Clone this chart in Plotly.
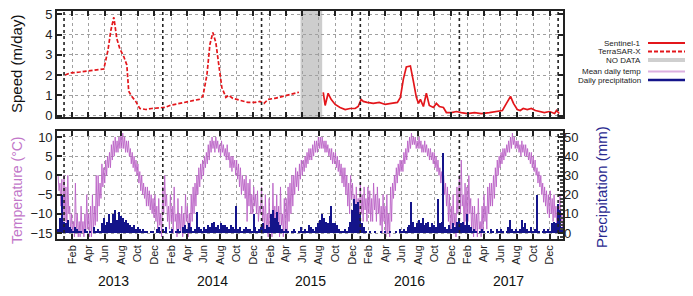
import pandas as pd
import plotly.graph_objects as go

# ---------------- DATA ----------------
# Glacier speed (m/day)
tsx_dates = ["2013-01-05", "2013-01-23", "2013-02-28", "2013-04-06", "2013-05-13", "2013-05-28",
             "2013-06-12", "2013-06-23", "2013-07-04", "2013-07-15", "2013-07-26", "2013-08-10",
             "2013-08-21", "2013-08-28", "2013-09-08", "2013-09-23", "2013-10-08", "2013-10-30",
             "2013-11-21", "2013-12-21", "2014-01-08", "2014-01-27", "2014-03-05", "2014-04-11",
             "2014-05-15", "2014-05-29", "2014-06-13", "2014-06-24", "2014-07-05", "2014-07-16",
             "2014-07-27", "2014-08-07", "2014-08-22", "2014-09-02", "2014-09-17", "2014-10-13",
             "2014-11-11", "2014-12-08", "2014-12-26", "2015-01-10", "2015-01-25", "2015-02-19",
             "2015-03-21", "2015-04-19", "2015-05-19"]
tsx_speed = [2.0, 2.1, 2.15, 2.2, 2.25, 2.3,
             3.2, 4.2, 4.85, 3.8, 3.3, 2.9,
             2.5, 1.2, 0.95, 0.7, 0.35, 0.3,
             0.35, 0.4, 0.4, 0.5, 0.6, 0.7,
             0.8, 0.95, 2.0, 3.5, 4.1, 3.6,
             2.4, 1.4, 0.9, 1.0, 0.85, 0.75,
             0.65, 0.65, 0.7, 0.6, 0.8, 0.85,
             0.95, 1.05, 1.15]

s1_dates = ["2015-08-17", "2015-08-24", "2015-09-04", "2015-09-15", "2015-09-30", "2015-10-18",
            "2015-11-06", "2015-11-24", "2015-12-13", "2015-12-24", "2016-01-04", "2016-01-12",
            "2016-01-26", "2016-02-18", "2016-03-11", "2016-04-02", "2016-04-24", "2016-05-17",
            "2016-05-28", "2016-06-08", "2016-06-19", "2016-07-04", "2016-07-15", "2016-07-26",
            "2016-08-03", "2016-08-10", "2016-08-21", "2016-09-01", "2016-09-12", "2016-09-27",
            "2016-10-08", "2016-10-19", "2016-11-03", "2016-11-14", "2016-12-03", "2016-12-21",
            "2017-01-08", "2017-01-31", "2017-02-26", "2017-03-23", "2017-04-22", "2017-05-18",
            "2017-06-09", "2017-06-24", "2017-07-09", "2017-07-20", "2017-08-03", "2017-08-14",
            "2017-08-25", "2017-09-09", "2017-09-24", "2017-10-09", "2017-10-24", "2017-11-11",
            "2017-11-30", "2017-12-19", "2017-12-26", "2018-01-05"]
s1_speed = [1.15, 0.5, 1.1, 0.8, 0.55, 0.4,
            0.3, 0.35, 0.35, 0.45, 0.8, 0.7,
            0.65, 0.6, 0.65, 0.55, 0.6, 0.65,
            0.9, 1.8, 2.4, 2.45, 1.7, 0.9,
            0.6, 0.8, 0.45, 1.1, 0.5, 0.4,
            0.6, 0.45, 0.4, 0.15, 0.15, 0.2,
            0.15, 0.1, 0.15, 0.1, 0.15, 0.2,
            0.25, 0.6, 0.95, 0.6, 0.3, 0.25,
            0.35, 0.3, 0.35, 0.25, 0.2, 0.15,
            0.2, 0.1, 0.25, 0.1]

nodata_start = "2015-05-25"
nodata_end = "2015-08-13"

# Mean daily temperature: weekly upper / lower envelope (deg C)
temp_hi_2012 = [0, -2, -1]
temp_lo_2012 = [-4, -8, -15]
temp_hi_2013 = [0, -3, 0, -8, -10, -12, -2, -10, -12, -8, -12, -10, -5, -10, -8, -5, -8, 0,
                0, -2, 3, 2, 4, 5, 6, 8, 9, 10, 9, 10, 11, 11, 10, 9, 9, 7, 6, 5, 4,
                3, 1, 0, -2, -3, -3, -4, -5, -6, -5, -8, -6, -10]
temp_lo_2013 = [-12, -15, -10, -15, -15, -16, -14, -16, -16, -15, -16, -15, -14, -16, -16, -15, -13, -12,
                -8, -6, -3, -2, 0, 2, 2, 4, 5, 6, 6, 7, 7, 7, 6, 6, 5, 3, 2, 1, 0,
                -2, -4, -5, -6, -8, -8, -9, -10, -11, -12, -15, -13, -16]
temp_hi_2014 = [-3, 0, -5, -8, -5, -8, -3, -10, -6, -10, -8, -10, -5, -8, -10, -5, -3,
                -2, 0, 2, 3, 4, 5, 6, 8, 9, 10, 9, 10, 9, 8, 9, 8, 7, 8, 6, 5, 5, 4,
                4, 3, 2, 0, -1, 0, -2, -1, -5, -3, -5, -4, -8]
temp_lo_2014 = [-10, -8, -12, -14, -12, -15, -12, -16, -14, -15, -16, -15, -12, -16, -15, -12, -10,
                -8, -5, -3, -1, 0, 2, 3, 4, 6, 7, 6, 7, 6, 5, 6, 5, 4, 4, 2, 1, 2, 0,
                -1, -3, -5, -4, -6, -12, -8, -10, -10, -8, -10, -12, -10]
temp_hi_2015 = [-3, -8, -5, -10, -6, -10, -2, -8, -5, -8, -3, -10, -6, -6, -3, -2, 0,
                0, 2, 1, 3, 4, 4, 5, 6, 7, 7, 8, 9, 9, 10, 10, 10, 9, 9, 8, 7, 7, 6,
                6, 5, 4, 3, 2, 2, 0, -2, 0, -2, -5, -3, -6]
temp_lo_2015 = [-12, -15, -14, -16, -14, -16, -14, -15, -15, -16, -13, -16, -15, -15, -12, -10, -8,
                -5, -3, -4, -1, 0, 1, 2, 3, 4, 4, 5, 6, 6, 7, 7, 7, 6, 6, 5, 4, 3, 3,
                2, 1, 0, -2, -3, -5, -8, -10, -6, -8, -13, -10, -12]
temp_hi_2016 = [-2, -5, -3, -6, -3, -4, -6, -2, -5, -3, -6, -8, -5, -8, -5, -10, -3,
                -2, 0, 2, 3, 4, 4, 6, 7, 9, 10, 11, 10, 10, 9, 10, 9, 8, 9, 8, 7, 7, 6,
                6, 5, 4, 2, 1, 0, -2, -3, -5, -8, -5, -10, -3]
temp_lo_2016 = [-10, -12, -9, -12, -10, -12, -12, -9, -12, -10, -13, -15, -12, -16, -15, -16, -12,
                -6, -4, -2, 0, 1, 1, 3, 4, 6, 7, 8, 8, 7, 7, 7, 6, 6, 6, 5, 4, 4, 3,
                2, 1, 0, -2, -3, -5, -8, -12, -15, -15, -13, -16, -10]
temp_hi_2017 = [0, 4, -5, -2, -3, 0, -6, -8, -8, -10, -6, -12, -8, -5, -8, -3, -2,
                -2, 0, 2, 4, 5, 6, 7, 7, 8, 9, 10, 11, 10, 9, 9, 8, 9, 8, 8, 7, 6, 6,
                5, 4, 2, 1, 0, -2, -3, -4, -5, -4, -6, -5, -8]
temp_lo_2017 = [-10, -8, -14, -12, -12, -10, -15, -16, -15, -16, -14, -16, -15, -12, -14, -10, -8,
                -8, -6, -3, 0, 2, 3, 4, 5, 6, 6, 7, 8, 7, 7, 6, 5, 6, 5, 5, 4, 3, 2,
                1, 0, -2, -3, -5, -7, -8, -10, -11, -10, -12, -11, -13]
temp_hi_2018 = [-8, -5, -10]
temp_lo_2018 = [-14, -12, -15]

# Daily precipitation: weekly values (mm)
precip_2012 = [2, 8, 20]
precip_2013 = [6, 5, 7, 3, 2, 1, 3, 2, 1, 1, 0, 2, 1, 0, 1, 0, 3, 1, 2, 1, 5, 8,
               4, 6, 10, 5, 10, 12, 7, 11, 9, 8, 6, 7, 5, 4, 3, 4, 2, 3, 2, 1, 2, 1,
               1, 0, 1, 1, 0, 2, 3, 1]
precip_2014 = [2, 1, 3, 0, 1, 2, 0, 1, 2, 1, 0, 3, 4, 2, 5, 3, 1, 2, 11, 3, 2, 1,
               3, 2, 4, 3, 5, 6, 3, 4, 2, 5, 4, 4, 3, 2, 4, 3, 2, 14, 2, 3, 1, 2,
               3, 2, 2, 1, 10, 3, 1, 2]
precip_2015 = [3, 5, 2, 4, 3, 10, 12, 8, 11, 6, 4, 2, 1, 2, 1, 0, 1, 2, 1, 0, 1, 3,
               1, 2, 1, 4, 3, 2, 1, 3, 5, 7, 10, 8, 6, 5, 9, 14, 5, 5, 4, 2, 1, 1,
               2, 1, 3, 6, 12, 18, 15, 16]
precip_2016 = [10, 5, 3, 1, 0, 1, 0, 0, 1, 0, 0, 1, 0, 1, 0, 0, 1, 0, 0, 1, 0, 2,
               1, 2, 1, 3, 4, 16, 6, 3, 5, 7, 5, 8, 4, 5, 6, 3, 5, 4, 3, 18, 5, 6,
               42, 3, 2, 4, 2, 5, 3, 6]
precip_2017 = [8, 5, 6, 4, 10, 4, 3, 1, 2, 1, 0, 1, 2, 1, 0, 1, 0, 2, 1, 0, 2, 1,
               2, 1, 0, 1, 3, 7, 2, 1, 2, 1, 2, 7, 3, 5, 2, 1, 3, 1, 2, 20, 1, 0,
               1, 2, 1, 2, 1, 5, 6, 5]
precip_2018 = [15, 12, 3]

# Axis tick labels
month_names = ["Feb", "Apr", "Jun", "Aug", "Oct", "Dec"]
month_nums = [2, 4, 6, 8, 10, 12]
year_list = [2013, 2014, 2015, 2016, 2017]

# ---------------- BUILD SERIES ----------------
temp_blocks = [("2012-12-10", temp_hi_2012, temp_lo_2012),
               ("2013-01-01", temp_hi_2013, temp_lo_2013),
               ("2014-01-01", temp_hi_2014, temp_lo_2014),
               ("2015-01-01", temp_hi_2015, temp_lo_2015),
               ("2016-01-01", temp_hi_2016, temp_lo_2016),
               ("2017-01-01", temp_hi_2017, temp_lo_2017),
               ("2018-01-01", temp_hi_2018, temp_lo_2018)]
tx, ty = [], []
for start, hi, lo in temp_blocks:
    days = pd.date_range(start, periods=len(hi), freq="7D")
    for d, h, l in zip(days, hi, lo):
        tx += [d, d + pd.Timedelta(hours=84)]
        ty += [h, l]

precip_blocks = [("2012-12-10", precip_2012), ("2013-01-01", precip_2013),
                 ("2014-01-01", precip_2014), ("2015-01-01", precip_2015),
                 ("2016-01-01", precip_2016), ("2017-01-01", precip_2017),
                 ("2018-01-01", precip_2018)]
px_, py_ = [], []
for start, vals in precip_blocks:
    days = pd.date_range(start, periods=len(vals), freq="7D")
    px_ += list(days)
    py_ += vals

tickvals = [f"{y}-{m:02d}-01" for y in year_list for m in month_nums]
ticktext = [n for y in year_list for n in month_names]

# ---------------- FIGURE ----------------
# The page body has an 8px margin, so the figure is laid out 8px smaller
OFF = 8
W, H = 693 - OFF, 296 - OFF
ML, MR, MT, MB = 57 - OFF, 130, 11 - OFF, 57
PW, PH = W - ML - MR, H - MT - MB


def xp(px):  # page pixel -> paper x
    return (px - OFF - ML) / PW


def yp(py):  # page pixel -> paper y
    return (H - MB - (py - OFF)) / PH


FONT = "Liberation Sans, Arial, sans-serif"
RED = "#e3161b"
NAVY = "#14148a"
PURPLE = "#c277c9"

fig = go.Figure()

fig.add_trace(go.Scatter(x=tsx_dates, y=tsx_speed, mode="lines", xaxis="x", yaxis="y",
                         line=dict(color=RED, width=1.7, dash="4px,2px"), showlegend=False))
fig.add_trace(go.Scatter(x=s1_dates, y=s1_speed, mode="lines", xaxis="x", yaxis="y",
                         line=dict(color=RED, width=1.7), showlegend=False))

fig.add_trace(go.Scatter(x=tx, y=ty, mode="lines", xaxis="x2", yaxis="y2",
                         line=dict(color="rgba(185,95,196,0.9)", width=0.95), showlegend=False))
fig.add_trace(go.Bar(x=px_, y=py_, xaxis="x2", yaxis="y3", marker=dict(color=NAVY, line=dict(width=0)),
                     width=5 * 86400000, showlegend=False))

xrange_ = ["2012-12-06", "2018-01-19"]
grid = dict(showgrid=True, gridcolor="#a0a0a0", griddash="dot", gridwidth=1)
common_x = dict(type="date", range=xrange_, tickvals=tickvals, ticktext=ticktext,
                ticks="inside", ticklen=5, tickwidth=1.6, tickcolor="#222",
                showline=True, linecolor="#222", linewidth=1.6, mirror="ticks", zeroline=False, **grid)

top_dom = [yp(117), 1]
bot_dom = [0, yp(131)]

fig.update_layout(
    width=W, height=H, margin=dict(l=ML, r=MR, t=MT, b=MB, autoexpand=False),
    paper_bgcolor="white", plot_bgcolor="white",
    font=dict(family=FONT, size=13, color="#222"),
    bargap=0,
    xaxis=dict(anchor="y", domain=[0, 1], showticklabels=False, **common_x),
    xaxis2=dict(anchor="y2", domain=[0, 1], showticklabels=True, tickangle=-90,
                tickfont=dict(size=11, family=FONT), matches="x", **common_x),
    yaxis=dict(domain=top_dom, anchor="x", range=[-0.07, 5.16], tickvals=[0, 1, 2, 3, 4, 5],
               ticks="inside", ticklen=5, tickwidth=1.6, tickcolor="#222",
               showline=True, linecolor="#222", linewidth=1.6, mirror="ticks", zeroline=False,
               tickfont=dict(size=13), ticklabeloverflow="allow", **grid),
    yaxis2=dict(domain=bot_dom, anchor="x2", range=[-16.56, 11.56], tickvals=[-15, -10, -5, 0, 5, 10],
                ticks="inside", ticklen=5, tickwidth=1.6, tickcolor="#222",
                showline=True, linecolor="#222", linewidth=1.6, mirror=True, zeroline=False,
                tickfont=dict(size=13), ticklabeloverflow="allow", **grid),
    yaxis3=dict(overlaying="y2", anchor="x2", side="right", range=[-3.15, 53.4],
                tickvals=[0, 10, 20, 30, 40, 50], ticks="inside", ticklen=5, tickwidth=1.6,
                tickcolor="#222", showgrid=False, zeroline=False, showline=False,
                tickfont=dict(size=13), ticklabeloverflow="allow",
                minor=dict(dtick=2, ticks="inside", ticklen=3, tickcolor="#444", showgrid=False)),
)

shapes = []
# NO DATA band
shapes.append(dict(type="rect", xref="x", yref="y domain", x0=nodata_start, x1=nodata_end,
                   y0=0, y1=1, fillcolor="#cdcdcd", line=dict(width=0), layer="below"))
# year separators
for y in year_list + [2018]:
    for xr, yr in (("x", "y domain"), ("x2", "y2 domain")):
        shapes.append(dict(type="line", xref=xr, yref=yr, x0=f"{y}-01-01", x1=f"{y}-01-01",
                           y0=0, y1=1, line=dict(color="#222", width=1.6, dash="3px,3px")))

# legend
leg = [("Sentinel-1", 43, dict(color=RED, width=2)),
       ("TerraSAR-X", 51.5, dict(color=RED, width=2, dash="4px,2px")),
       ("NO DATA", 60, dict(color="#cfcfcf", width=4)),
       ("Mean daily temp", 71.5, dict(color="#dcb0e0", width=2)),
       ("Daily precipitation", 80, dict(color=NAVY, width=2.5))]
annotations = []
for txt, yy, ln in leg:
    annotations.append(dict(text=txt, xref="paper", yref="paper", x=xp(642), y=yp(yy),
                            xanchor="right", yanchor="middle", showarrow=False, borderpad=0,
                            font=dict(size=8, family="Liberation Sans Narrow, Liberation Sans, Arial",
                                      color="#222")))
    shapes.append(dict(type="line", xref="paper", yref="paper", x0=xp(648), x1=xp(693),
                       y0=yp(yy), y1=yp(yy), line=ln))

# axis titles
annotations.append(dict(text="Speed (m/day)", xref="paper", yref="paper", x=xp(17), y=yp(64),
                        textangle=-90, showarrow=False, font=dict(size=15, color="#111"),
                        xanchor="center", yanchor="middle"))
annotations.append(dict(text="Temperature (°C)", xref="paper", yref="paper", x=xp(17), y=yp(190),
                        textangle=-90, showarrow=False, font=dict(size=14, color=PURPLE),
                        xanchor="center", yanchor="middle"))
annotations.append(dict(text="Precipitation (mm)", xref="paper", yref="paper", x=xp(601), y=yp(187),
                        textangle=-90, showarrow=False, font=dict(size=15, color="#2a2a90"),
                        xanchor="center", yanchor="middle"))
# year labels
for y in year_list:
    annotations.append(dict(text=str(y), xref="x2", yref="paper", x=f"{y}-07-02", y=yp(281),
                            showarrow=False, font=dict(size=14, color="#111"),
                            xanchor="center", yanchor="middle"))

fig.update_layout(shapes=shapes, annotations=annotations)
fig.write_html("out.html")
